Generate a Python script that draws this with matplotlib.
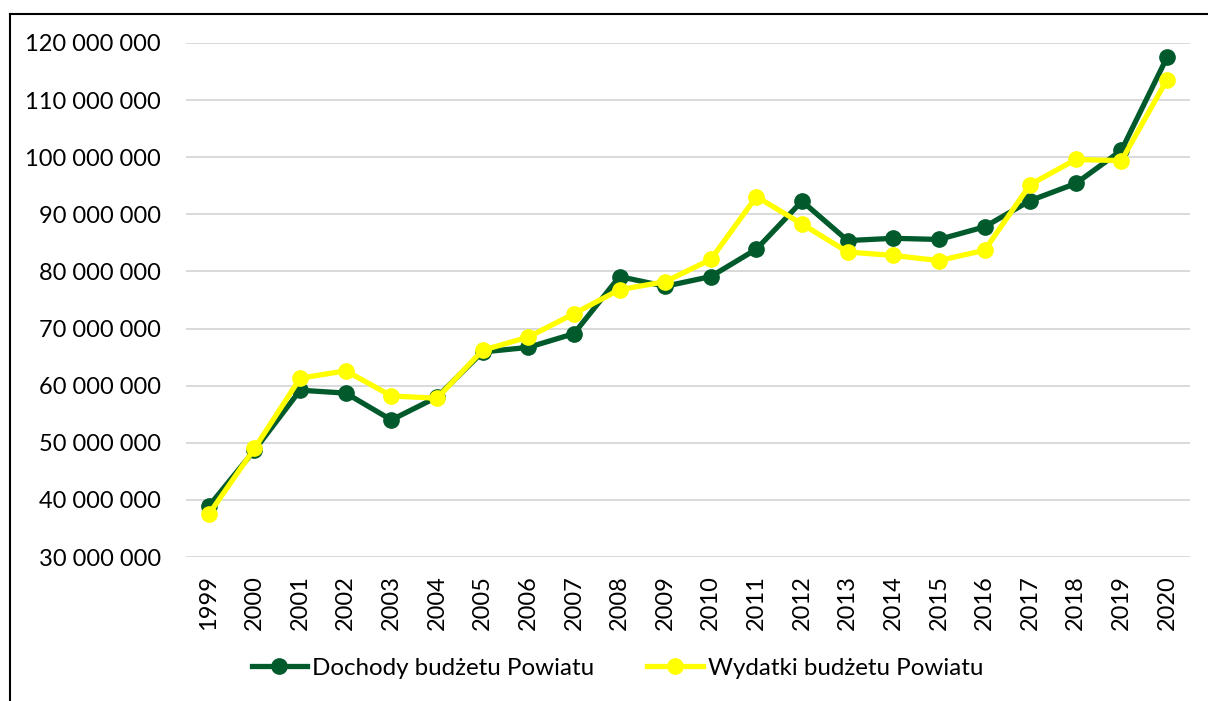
"""
Dochody i wydatki budzetu Powiatu 1999-2020.
"""

import matplotlib
matplotlib.use("Agg")
import matplotlib.pyplot as plt
from matplotlib.lines import Line2D
from matplotlib.ticker import FuncFormatter

years = [str(y) for y in range(1999, 2021)]
dochody = [38.9, 48.7, 59.2, 58.7, 54.0, 58.0, 65.9, 66.7, 69.1, 79.1, 77.4,
           79.1, 83.9, 92.3, 85.4, 85.8, 85.6, 87.8, 92.4, 95.4, 101.2, 117.5]
wydatki = [37.5, 49.0, 61.3, 62.6, 58.2, 57.8, 66.2, 68.5, 72.6, 76.8, 78.2,
           82.1, 93.1, 88.3, 83.4, 82.8, 81.9, 83.7, 95.2, 99.6, 99.4, 113.6]
dochody = [v * 1e6 for v in dochody]
wydatki = [v * 1e6 for v in wydatki]

green = "#005A2B"
yellow = "#FFFF00"
font = ["Lato", "DejaVu Sans"]
plt.rcParams["font.family"] = font

fig = plt.figure(figsize=(12.08, 7.01), dpi=100)
ax = fig.add_axes([0.154, 0.2054, 0.831, 0.7333])

x = list(range(len(years)))
ax.plot(x, dochody, color=green, lw=3.8, marker="o", ms=11,
        label="Dochody budżetu Powiatu", zorder=3)
ax.plot(x, wydatki, color=yellow, lw=3.8, marker="o", ms=11,
        label="Wydatki budżetu Powiatu", zorder=4)

ax.set_xlim(-0.5, len(years) - 0.5)
ax.set_ylim(30e6, 120e6)
ax.set_yticks([i * 10e6 for i in range(3, 13)])
ax.yaxis.set_major_formatter(
    FuncFormatter(lambda v, p: f"{int(round(v)):,}".replace(",", " ")))
ax.set_xticks(x)
ax.set_xticklabels(years, rotation=90)
ax.tick_params(axis="y", length=0, pad=18, labelsize=17)
ax.tick_params(axis="x", length=0, pad=13, labelsize=17)
for s in ax.spines.values():
    s.set_visible(False)
ax.grid(axis="y", color="#D9D9D9", lw=1.4)
ax.set_axisbelow(True)

fig.legend(loc="center", bbox_to_anchor=(0.511, 0.047), ncol=2, frameon=False,
           fontsize=17.4, handlelength=2.3, handletextpad=0.2,
           columnspacing=2.2)

# ramka wykresu
fig.add_artist(Line2D([10 / 1208, 10 / 1208], [0, 1 - 14 / 701],
                      color="black", lw=1.5, transform=fig.transFigure))
fig.add_artist(Line2D([10 / 1208, 1], [1 - 14 / 701, 1 - 14 / 701],
                      color="black", lw=1.5, transform=fig.transFigure))

fig.savefig("out.png", dpi=100)
